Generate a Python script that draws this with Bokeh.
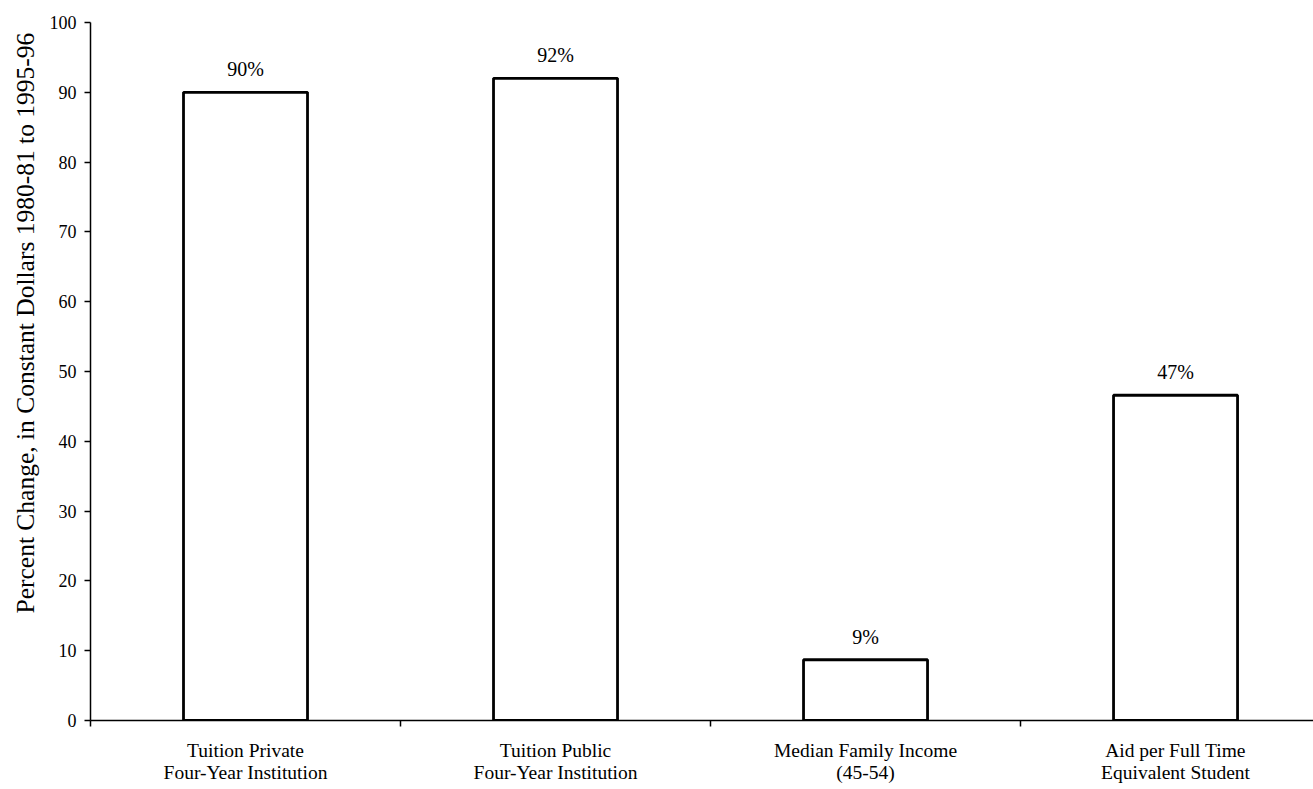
from bokeh.plotting import figure
from bokeh.models import Range1d, FixedTicker, ColumnDataSource, Title
from bokeh.core.properties import value
from bokeh.embed import file_html
from bokeh.resources import INLINE

categories = ["Tuition Private\nFour-Year Institution",
              "Tuition Public\nFour-Year Institution",
              "Median Family Income\n(45-54)",
              "Aid per Full Time\nEquivalent Student"]
values = [90, 92, 8.7, 46.6]
labels = ["90%", "92%", "9%", "47%"]
y_ticks = list(range(0, 101, 10))
y_title = "Percent Change, in Constant Dollars 1980-81 to 1995-96"

FONT = "Liberation Serif"

xs = [i + 0.5 for i in range(len(categories))]
src = ColumnDataSource(dict(x=xs, top=values, label=labels))

p = figure(width=1313, height=789, output_backend="svg", toolbar_location=None,
           x_range=Range1d(0, 3.945), y_range=Range1d(0, 100),
           min_border_left=90, min_border_right=0, min_border_top=22, min_border_bottom=69)
p.outline_line_color = None
p.grid.visible = False
p.background_fill_color = "white"

p.vbar(x="x", top="top", bottom=0, width=0.4, source=src,
       fill_color="white", line_color="black", line_width=2.8)

p.text(x="x", y="top", text="label", source=src, text_align="center",
       text_baseline="bottom", y_offset=-12, text_font=value(FONT),
       text_font_size="20px", text_color="black")

# x axis
xa = p.xaxis[0]
xa.ticker = FixedTicker(ticks=xs, minor_ticks=list(range(len(categories) + 1)))
xa.major_label_overrides = {x: c for x, c in zip(xs, categories)}
xa.major_tick_line_color = None
xa.minor_tick_out = 6
xa.minor_tick_in = 0
xa.minor_tick_line_color = "black"
xa.minor_tick_line_width = 1.5
xa.axis_line_color = "black"
xa.axis_line_width = 1.5
xa.major_label_text_font = FONT
xa.major_label_text_font_size = "19.5px"
xa.major_label_text_color = "black"
xa.major_label_text_line_height = 1.05
xa.major_label_standoff = 13

# y axis
ya = p.yaxis[0]
ya.ticker = FixedTicker(ticks=y_ticks, minor_ticks=[])
ya.major_tick_out = 6
ya.major_tick_in = 0
ya.major_tick_line_width = 1.5
ya.axis_line_width = 1.5
ya.major_label_text_font = FONT
ya.major_label_text_font_size = "18px"
ya.major_label_text_color = "black"
ya.major_label_standoff = 8

# y-axis title, starting ~107px above the baseline as in the original
p.add_layout(Title(text=y_title, align="left", offset=107, standoff=14,
                   text_font=FONT, text_font_size="25.5px",
                   text_font_style="normal", text_color="black"), "left")

open("out.html", "w").write(file_html(p, INLINE))
